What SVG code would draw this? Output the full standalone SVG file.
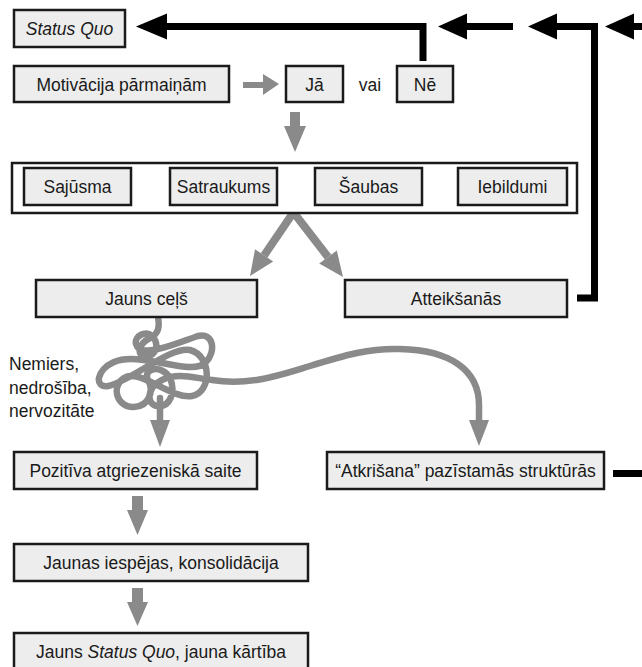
<svg xmlns="http://www.w3.org/2000/svg" width="642" height="667" viewBox="0 0 642 667">
<style>
.box{fill:#ededed;stroke:#1a1a1a;stroke-width:2.5}
.frame{fill:#fff;stroke:#1a1a1a;stroke-width:2.5}
.t{font-family:"Liberation Sans",Arial,sans-serif;font-size:17.5px;fill:#1a1a1a;text-anchor:middle}
.tl{font-family:"Liberation Sans",Arial,sans-serif;font-size:17.5px;fill:#1a1a1a}
.blk{fill:none;stroke:#000;stroke-width:7;stroke-linejoin:miter}
.gl{fill:none;stroke:#8a8a8a;stroke-width:6.5;stroke-linecap:round;stroke-linejoin:round}
.gs{fill:none;stroke:#8a8a8a;stroke-width:8}
.gf{fill:#8a8a8a}
.bf{fill:#000}
</style>
<rect width="642" height="667" fill="#fff"/>
<g id="connectors">
  <path class="blk" d="M163,26.5 H423 V61"/>
  <polygon class="bf" points="136,26.5 167,13.5 167,39.5"/>
  <path class="blk" d="M465,26.5 H513"/>
  <polygon class="bf" points="438,26.5 467,13.5 467,39.5"/>
  <path class="blk" d="M555,26.5 H594.5 V298 H577"/>
  <polygon class="bf" points="528,26.5 557,13.5 557,39.5"/>
  <path class="blk" d="M632,26.5 H642"/>
  <polygon class="bf" points="605,26.5 634,13.5 634,39.5"/>
  <path class="blk" d="M613,473.5 H642"/>
  <polygon class="gf" points="243,82 263,82 263,74 279,84 263,95 263,88 243,88"/>
  <polygon class="gf" points="290,112 300,112 300,126 306,126 295,152 284,126 290,126"/>
  <path class="gs" d="M293,213 L264.1,255.4"/>
  <polygon class="gf" points="250,276 273.2,261.6 255,249.2"/>
  <path class="gs" d="M294,213 L328,257"/>
  <polygon class="gf" points="343,277 336.8,250.4 319.2,263.6"/>
  <path class="gl" d="M158,317 C160,328 158,334 150,338 C138,344 136,356 146,356 C156,356 160,344 152,336 C146,330 134,336 136,344 C140,360 180,342 198,336 C214,332 216,352 206,362 C192,378 140,350 114,362 C96,370 94,388 108,386 C130,382 170,346 190,350 C212,356 212,392 192,396 C172,400 140,368 124,378 C110,388 118,408 134,407 C150,406 154,390 148,380 C142,368 162,364 170,378 C176,392 170,407 158,406 C146,405 146,388 162,380 C178,372 194,378 212,380 C250,386 280,375 310,366 C345,355 370,348 400,349 C450,350 479,370 479,405 V422"/>
  <path class="gl" d="M160,398 V422"/>
  <polygon class="gf" points="150,420 170,420 160,447"/>
  <polygon class="gf" points="469,420 489,420 479,446"/>
  <polygon class="gf" points="132,496 143,496 143,510 148,510 137.5,535 127,510 132,510"/>
  <polygon class="gf" points="132,588 143,588 143,602 148,602 137.5,626 127,602 132,602"/>
</g>
<g id="status-quo"><rect class="box" x="14" y="10" width="111" height="37"/><text class="t" x="69.5" y="35" font-style="italic">Status Quo</text></g>
<g id="motivacija"><rect class="box" x="14" y="66" width="215" height="36"/><text class="t" x="121.5" y="90.5">Motivācija pārmaiņām</text></g>
<g id="ja"><rect class="box" x="286" y="66" width="57" height="36"/><text class="t" x="314.5" y="90.5">Jā</text></g>
<g id="vai"><text class="t" x="370" y="90.5">vai</text></g>
<g id="ne"><rect class="box" x="397" y="66" width="56" height="36"/><text class="t" x="425" y="90.5">Nē</text></g>
<g id="emotions">
  <rect class="frame" x="12" y="163" width="565" height="50"/>
  <g id="sajusma"><rect class="box" x="24" y="168" width="107" height="37"/><text class="t" x="77.5" y="193">Sajūsma</text></g>
  <g id="satraukums"><rect class="box" x="170" y="168" width="107" height="37"/><text class="t" x="223.5" y="193">Satraukums</text></g>
  <g id="saubas"><rect class="box" x="315" y="168" width="107" height="37"/><text class="t" x="368.5" y="193">Šaubas</text></g>
  <g id="iebildumi"><rect class="box" x="458" y="168" width="109" height="37"/><text class="t" x="512.5" y="193">Iebildumi</text></g>
</g>
<g id="jauns-cels"><rect class="box" x="36" y="280" width="221" height="37"/><text class="t" x="146.5" y="305">Jauns ceļš</text></g>
<g id="atteiksanas"><rect class="box" x="345" y="280" width="222" height="37"/><text class="t" x="456" y="305">Atteikšanās</text></g>
<g id="nemiers"><text class="tl" x="9" y="370">Nemiers,</text><text class="tl" x="9" y="394">nedrošība,</text><text class="tl" x="9" y="417">nervozitāte</text></g>
<g id="pozitiva"><rect class="box" x="14" y="452" width="243" height="37"/><text class="t" x="135.5" y="477">Pozitīva atgriezeniskā saite</text></g>
<g id="atkrisana"><rect class="box" x="327" y="452" width="277" height="37"/><text class="t" x="465.5" y="477">“Atkrišana” pazīstamās struktūrās</text></g>
<g id="jaunas-iespejas"><rect class="box" x="14" y="544" width="294" height="37"/><text class="t" x="161" y="569">Jaunas iespējas, konsolidācija</text></g>
<g id="jauns-status-quo"><rect class="box" x="14" y="633" width="294" height="37"/><text class="t" x="161" y="658">Jauns <tspan font-style="italic">Status Quo</tspan>, jauna kārtība</text></g>
</svg>
